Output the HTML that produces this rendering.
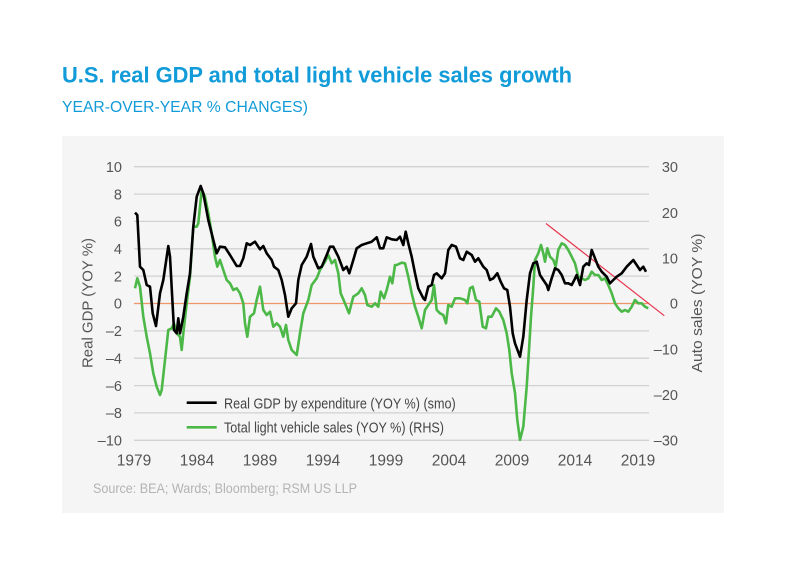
<!DOCTYPE html>
<html><head><meta charset="utf-8"><style>
html,body{margin:0;padding:0;background:#fff;}
svg{display:block;font-family:"Liberation Sans",sans-serif;}
</style></head><body>
<svg width="786" height="576" viewBox="0 0 786 576" xmlns="http://www.w3.org/2000/svg">
<rect x="0" y="0" width="786" height="576" fill="#fff"/>
<text x="62" y="82.3" font-size="22" font-weight="bold" fill="#119bd8" textLength="510" lengthAdjust="spacingAndGlyphs">U.S. real GDP and total light vehicle sales growth</text>
<text x="62" y="112" font-size="16" fill="#119bd8" textLength="246" lengthAdjust="spacingAndGlyphs">YEAR-OVER-YEAR % CHANGES)</text>
<rect x="62" y="136" width="662" height="377" fill="#f4f5f4"/>
<g stroke="#d0d1d0" stroke-width="1.3">
<line x1="134" x2="649" y1="166.7" y2="166.7"/>
<line x1="134" x2="649" y1="194.1" y2="194.1"/>
<line x1="134" x2="649" y1="221.4" y2="221.4"/>
<line x1="134" x2="649" y1="248.8" y2="248.8"/>
<line x1="134" x2="649" y1="276.1" y2="276.1"/>
<line x1="134" x2="649" y1="330.9" y2="330.9"/>
<line x1="134" x2="649" y1="358.2" y2="358.2"/>
<line x1="134" x2="649" y1="385.6" y2="385.6"/>
<line x1="134" x2="649" y1="412.9" y2="412.9"/>
<line x1="134" x2="649" y1="440.3" y2="440.3"/>
</g>
<line x1="134" x2="649" y1="303.5" y2="303.5" stroke="#f0956a" stroke-width="1.3"/>
<g font-size="14.5" fill="#555" text-anchor="end">
<text x="122" y="171.9">10</text>
<text x="122" y="199.3">8</text>
<text x="122" y="226.6">6</text>
<text x="122" y="254">4</text>
<text x="122" y="281.3">2</text>
<text x="122" y="308.7">0</text>
<text x="122" y="336.1">–2</text>
<text x="122" y="363.4">–4</text>
<text x="122" y="390.8">–6</text>
<text x="122" y="418.1">–8</text>
<text x="122" y="445.5">–10</text>
</g>
<g font-size="14.5" fill="#555" text-anchor="end">
<text x="678" y="172.2">30</text>
<text x="678" y="217.8">20</text>
<text x="678" y="263.4">10</text>
<text x="678" y="308.7">0</text>
<text x="678" y="354.3">–10</text>
<text x="678" y="399.9">–20</text>
<text x="678" y="445.5">–30</text>
</g>
<g font-size="15.5" fill="#555" text-anchor="middle">
<text x="134" y="465.5">1979</text>
<text x="197" y="465.5">1984</text>
<text x="260" y="465.5">1989</text>
<text x="323" y="465.5">1994</text>
<text x="386" y="465.5">1999</text>
<text x="449" y="465.5">2004</text>
<text x="512" y="465.5">2009</text>
<text x="575" y="465.5">2014</text>
<text x="638" y="465.5">2019</text>
</g>
<text transform="translate(92.5,303) rotate(-90)" font-size="15" fill="#555" text-anchor="middle" textLength="130" lengthAdjust="spacingAndGlyphs">Real GDP (YOY %)</text>
<text transform="translate(702,303) rotate(-90)" font-size="15" fill="#555" text-anchor="middle" textLength="139" lengthAdjust="spacingAndGlyphs">Auto sales (YOY %)</text>
<line x1="546" y1="223.5" x2="664.3" y2="315.7" stroke="#e8344e" stroke-width="1.2"/>
<polyline fill="none" stroke="#4cb848" stroke-width="2.6" stroke-linejoin="round" points="135,288.3 137.3,278.3 140,286.7 143.3,316.7 146.7,336.7 150,353.3 153.3,373.3 156.7,386.7 160,395 161.7,390 165,360 168.3,330 171.7,328.3 174,323.3 176.7,333.3 180,336.7 181.7,350 183.3,333.3 186.7,303.3 190,276.7 193.3,226.7 196.7,226.7 198.3,223.3 201.7,190 205,196.7 208.3,213.3 211.7,233.3 215,256.7 217.3,266.7 220,260 223.3,270 226.7,280 230,283.3 233.3,290 236.7,288.3 240,293.3 243.3,303.3 245,323.3 247.3,336.7 250,316.7 254,313.3 256.7,300 260,286.7 263.3,310 266.7,315 270,311.7 273.3,326.7 276.7,323.3 280,326.7 283.3,336.7 286,325 288.3,340 291.7,350 296.7,355 300,333.3 303.3,313.3 308.3,300 311.7,285 316.7,278.3 320,270 325,261.7 328.3,255 331.7,263.3 335,260 338.3,273.3 340.7,293.3 345,303.3 349,313.3 353.3,296.7 358.3,293.3 361.7,288.3 365,295 367.3,305 371.7,306.7 375,303.3 378.3,306.7 380.7,291.7 384,298.3 386.7,290 390,276.7 392.3,283.3 395,265 396.7,265 401.7,262.7 405,263.3 408.3,276.7 411.7,293.3 415,306.7 418.3,316.7 421.7,328.3 425,310 428.3,305 431.7,300 434,285 436.7,310 440,313.3 443.3,315 446,323.3 448.3,305 451.7,306.7 455,298.3 460,298.3 465,300 467.3,303.3 470,288.3 472.7,286.7 476,300 479.3,301.7 482.7,326.7 486,328.3 488.3,316.7 491.7,316.7 496,308.3 499.3,311.7 503.3,320 506.7,333.3 509.3,350 511.7,373.3 515,393 517.3,420 520,440 523.3,426.7 526.7,386.7 529,350 531,316.7 533.3,286.7 535,260 538.3,253.3 541,245 543.3,253.3 545,261.7 547.3,248.3 550,256.7 553.3,260 555.7,266.7 558.3,250 561.7,243.3 565,245 568.3,250 571.7,256.7 575,263.3 578.3,276.7 581.7,278.3 585,280 588.3,278.3 591.7,271.7 595,275 598.3,275 601.7,280 605,278.3 608.3,285 611.7,293.3 615,303.3 618.3,308.3 621.7,311.7 625,310 628.3,311.7 631.7,306.7 635,300 638.3,303.3 641.7,303.3 645,306.7 648.3,308.3"/>
<polyline fill="none" stroke="#000" stroke-width="2.6" stroke-linejoin="round" points="135,212.7 137.3,215 140,266.7 143.3,270 146.7,285 150,286.7 152.7,313.3 156,326 160,293.3 163.3,280 168.3,246 170,256.7 174,330 176.7,333.3 178.3,318.3 180,333.3 183.3,316.7 186.7,293.3 190,273.3 193.3,226.7 196.7,196.7 200.7,186 203.3,193.3 208.3,220 213.3,240 216.7,253.3 220,246.7 225,247.3 230,255 236.7,266 240,266 243.3,258.3 246.7,243.3 250,245 255,241.7 260,249.3 263.3,246 266.7,253.3 271.7,260 274,266.7 278.3,270 281.7,280 285,295 288.3,316.7 291.7,308.3 296,303.3 298.3,280 301.7,265 306.7,256.7 311,244 313.3,256.7 318.3,268.3 321.7,266.7 326.7,255 330,246.7 333.3,246.7 338.3,256.7 343.3,270 346.7,266.7 349.3,273.3 353.3,260 356.7,248.3 361.7,245 366.7,243.3 371.7,241.7 376.7,237.3 380,248.3 383.3,248.3 386.7,237.3 391.7,239.3 396.7,240 400,236.7 403.3,245 405.7,231.7 408.3,243.3 411.7,256.7 415,273.3 418.3,288.3 423.3,298.3 425,300 428.3,286.7 431.7,285 434,275 436.7,273.3 441.7,278.3 445,273.3 448.3,250 451.7,245 456,246.7 460,258.3 463.3,260 466.7,251.7 471.7,255 475,261.7 478.3,258.3 483.3,266.7 486.7,270 490,280 493.3,278.3 497.3,273.3 500.7,281.7 504,288.3 507.3,290 510,306.7 512.7,333.3 515,343.3 520,356.7 523.3,336.7 526.7,300 530,273.3 533.3,263.3 536.7,261.7 540,275 543.3,280 546.7,285 548.3,290 551.7,278.3 555,268.3 558.3,270 561.7,275 565,283.3 568.3,283.3 571.7,285 574.3,280 576.7,275 580,285 583.3,266.7 586.7,263.3 589,265 591.7,250 595,258.3 598.3,266.7 601.7,271.7 606.7,276.7 610,283.3 613.3,280 616.7,276.7 621.7,273.3 626.7,266.7 630,263.3 633.3,260 636.7,265 640,270 643.3,266.7 646,271.7"/>
<line x1="186.7" x2="216.7" y1="402.7" y2="402.7" stroke="#000" stroke-width="2.6"/>
<line x1="186.7" x2="216.7" y1="427.3" y2="427.3" stroke="#4cb848" stroke-width="2.6"/>
<text x="224" y="408.3" font-size="15" fill="#444" textLength="231.7" lengthAdjust="spacingAndGlyphs">Real GDP by expenditure (YOY %) (smo)</text>
<text x="224" y="432.5" font-size="15" fill="#444" textLength="220" lengthAdjust="spacingAndGlyphs">Total light vehicle sales (YOY %) (RHS)</text>
<text x="93" y="493" font-size="14" fill="#b3b3b3" textLength="264" lengthAdjust="spacingAndGlyphs">Source: BEA; Wards; Bloomberg; RSM US LLP</text>
</svg>
</body></html>
